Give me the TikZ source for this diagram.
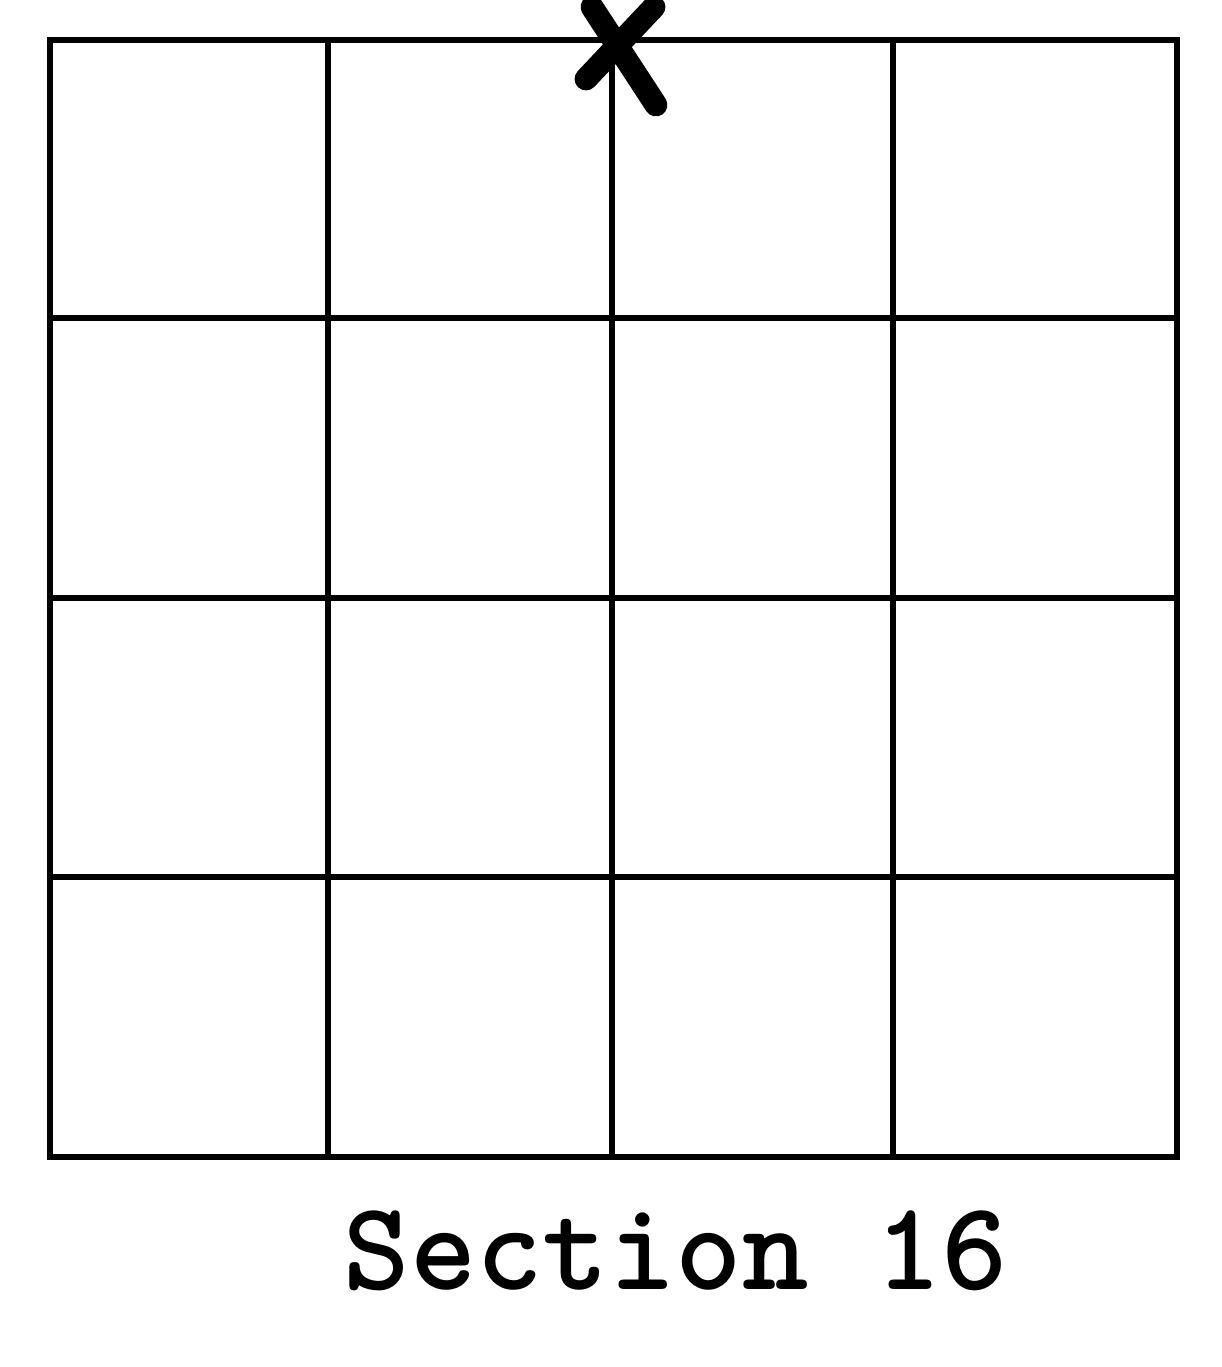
\documentclass[tikz,border=0pt]{standalone}
\usepackage{fontspec}
\usetikzlibrary{positioning}
\begin{document}
\begin{tikzpicture}[
    gridline/.style={draw=black, line width=1.6pt, line cap=rect},
    xstroke/.style={draw=black, line width=6.5pt, line cap=round},
    caption/.style={font=\ttfamily\bfseries\fontsize{36}{40}\selectfont, anchor=base west, inner sep=0pt}
]
\useasboundingbox (0,0) rectangle (12.22,13.67);

% Grid lines
\foreach \x in {0.50,3.28,6.12,8.93,11.77}
  \draw[gridline] (\x,2.10) -- (\x,13.27);
\foreach \y in {2.10,4.90,7.69,10.49,13.27}
  \draw[gridline] (0.50,\y) -- (11.77,\y);

% Cross on the top edge
\coordinate (xa) at (5.92,13.60);
\coordinate (xb) at (6.56,12.62);
\coordinate (xc) at (6.54,13.60);
\coordinate (xd) at (5.86,12.88);
\draw[xstroke] (xa) -- (xb);
\draw[xstroke] (xc) -- (xd);

% Caption
\node[caption] (sec) at (3.43,0.77) {Section 16};

\end{tikzpicture}
\end{document}
